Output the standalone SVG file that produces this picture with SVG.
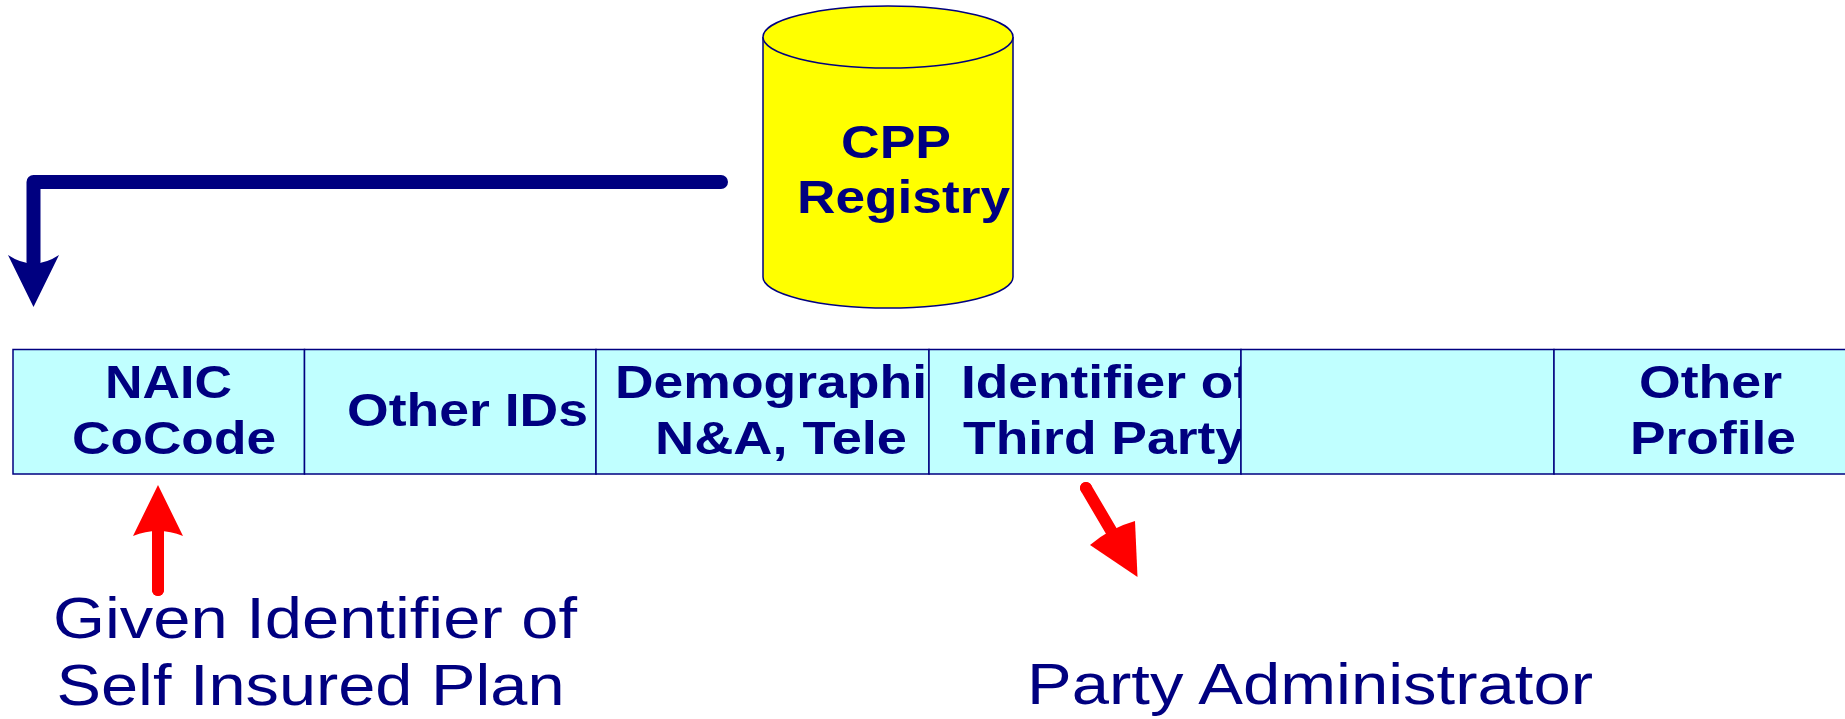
<svg xmlns="http://www.w3.org/2000/svg" width="1845" height="719" viewBox="0 0 1845 719">
  <style>
    .cell { fill: #C0FFFF; stroke: #000080; stroke-width: 1.5; }
    .cyl { fill: #FFFF00; stroke: #000080; stroke-width: 1.5; }
    .bt { font-family: "Liberation Sans", Arial, sans-serif; font-weight: bold; font-size: 46px; fill: #000080; }
    .lt { font-family: "Liberation Sans", Arial, sans-serif; font-size: 57.5px; fill: #000080; }
    .navy { fill: none; stroke: #000080; stroke-width: 14; stroke-linecap: round; stroke-linejoin: round; }
    .red { fill: none; stroke: #FF0000; stroke-width: 12; stroke-linecap: round; }
  </style>
  <defs>
    <clipPath id="clip-cell4"><rect x="929" y="349.5" width="312" height="124.5"/></clipPath>
  </defs>
  <rect width="1845" height="719" fill="#FFFFFF"/>

  <g id="cpp-registry">
    <path class="cyl" d="M763,37 L763,277 A125,31 0 0 0 1013,277 L1013,37 A125,31 0 0 0 763,37 Z"/>
    <path class="cyl" d="M763,37 A125,31 0 0 0 1013,37" fill="none"/>
    <text class="bt" x="841" y="158" textLength="110" lengthAdjust="spacingAndGlyphs">CPP</text>
    <text class="bt" x="797" y="213" textLength="213" lengthAdjust="spacingAndGlyphs">Registry</text>
  </g>

  <g id="cell-naic">
    <rect class="cell" x="13" y="349.5" width="291.5" height="124.5"/>
    <text class="bt" x="105" y="398" textLength="127" lengthAdjust="spacingAndGlyphs">NAIC</text>
    <text class="bt" x="72" y="454" textLength="204" lengthAdjust="spacingAndGlyphs">CoCode</text>
  </g>
  <g id="cell-other-ids">
    <rect class="cell" x="304.5" y="349.5" width="291.5" height="124.5"/>
    <text class="bt" x="347" y="426" textLength="241" lengthAdjust="spacingAndGlyphs">Other IDs</text>
  </g>
  <g id="cell-demographics">
    <rect class="cell" x="596" y="349.5" width="333" height="124.5"/>
    <text class="bt" x="615" y="398" textLength="312" lengthAdjust="spacingAndGlyphs">Demographi</text>
    <text class="bt" x="655" y="454" textLength="252" lengthAdjust="spacingAndGlyphs">N&amp;A, Tele</text>
  </g>
  <g id="cell-third-party">
    <rect class="cell" x="929" y="349.5" width="312" height="124.5"/>
    <g clip-path="url(#clip-cell4)">
      <text class="bt" x="961" y="398" textLength="290" lengthAdjust="spacingAndGlyphs">Identifier of</text>
      <text class="bt" x="963" y="454" textLength="282" lengthAdjust="spacingAndGlyphs">Third Party</text>
    </g>
  </g>
  <g id="cell-empty">
    <rect class="cell" x="1241" y="349.5" width="313" height="124.5"/>
  </g>
  <g id="cell-other-profile">
    <rect class="cell" x="1554" y="349.5" width="320" height="124.5"/>
    <text class="bt" x="1639" y="398" textLength="143" lengthAdjust="spacingAndGlyphs">Other</text>
    <text class="bt" x="1630" y="454" textLength="166" lengthAdjust="spacingAndGlyphs">Profile</text>
  </g>

  <g id="label-self-insured">
    <text class="lt" x="53" y="638" textLength="524" lengthAdjust="spacingAndGlyphs">Given Identifier of</text>
    <text class="lt" x="56.5" y="705" textLength="508" lengthAdjust="spacingAndGlyphs">Self Insured Plan</text>
  </g>
  <g id="label-party-admin">
    <text class="lt" x="1027" y="704" textLength="566" lengthAdjust="spacingAndGlyphs">Party Administrator</text>
  </g>

  <g id="connectors">
    <path class="navy" d="M721,182 L33.5,182 L33.5,262"/>
    <path fill="#000080" d="M8,255 Q33.5,272 59,255 L33.5,307 Z"/>
    <path class="red" d="M158,590 L158,522" stroke-linecap="butt"/>
    <circle cx="158" cy="590" r="6" fill="#FF0000"/>
    <path fill="#FF0000" d="M133,536 Q158,526 183,536 L158,485 Z"/>
    <path class="red" d="M1086,488 L1116,539" stroke-linecap="butt"/>
    <circle cx="1086" cy="488" r="6" fill="#FF0000"/>
    <path fill="#FF0000" d="M1090,545 Q1110,528 1135,521 L1137.5,577 Z"/>
  </g>
</svg>
